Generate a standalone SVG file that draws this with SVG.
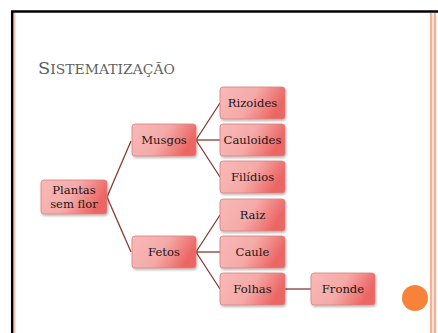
<svg xmlns="http://www.w3.org/2000/svg" width="438" height="333" viewBox="0 0 438 333">
<style>
.box{fill:url(#g);stroke:#d9837f;stroke-width:0.8;filter:url(#sh)}
.t{font-family:"DejaVu Serif","Liberation Serif",serif;font-size:11.6px;fill:#1e1414;text-anchor:middle}
.c{stroke:#8a3a30;fill:none;stroke-width:1.3}
</style>
<defs>
<linearGradient id="g" x1="0" y1="0" x2="1" y2="0.3">
<stop offset="0" stop-color="#f7b9b7"/>
<stop offset="0.55" stop-color="#f5aaa8"/>
<stop offset="1" stop-color="#ec6664"/>
</linearGradient>
<filter id="sh" x="-10%" y="-10%" width="125%" height="135%">
<feDropShadow dx="0.8" dy="1.5" stdDeviation="1" flood-color="#000" flood-opacity="0.3"/>
</filter>
</defs>
<rect width="438" height="333" fill="#fff"/>
<g id="frame">
<line x1="11" y1="11.5" x2="438" y2="11.5" stroke="#000" stroke-width="2.5"/>
<line x1="12.2" y1="11" x2="12.2" y2="333" stroke="#000" stroke-width="2.5"/>
<line x1="14.8" y1="13" x2="14.8" y2="333" stroke="#f9c4bd" stroke-width="1.6"/>
<rect x="429.5" y="13" width="7" height="320" fill="#fbe3da"/>
<line x1="431" y1="13" x2="431" y2="333" stroke="#f2a27e" stroke-width="1.5"/>
<line x1="435" y1="13" x2="435" y2="333" stroke="#f2a27e" stroke-width="1.5"/>
<circle cx="415" cy="298" r="13" fill="#f7833b"/>
</g>
<text x="38" y="74" font-family="DejaVu Serif,Liberation Serif,serif" fill="#5f5f5f" textLength="137" lengthAdjust="spacingAndGlyphs"><tspan font-size="16">S</tspan><tspan font-size="12.5">ISTEMATIZAÇÃO</tspan></text>
<g id="connectors">
<line class="c" x1="107" y1="197" x2="131" y2="141"/>
<line class="c" x1="107" y1="197" x2="131" y2="252"/>
<line class="c" x1="196" y1="140" x2="220" y2="103"/>
<line class="c" x1="196" y1="140" x2="220" y2="140" stroke-width="2.6"/>
<line class="c" x1="196" y1="140" x2="220" y2="177"/>
<line class="c" x1="196" y1="252" x2="220" y2="215"/>
<line class="c" x1="196" y1="252" x2="220" y2="252" stroke-width="1.6"/>
<line class="c" x1="196" y1="252" x2="220" y2="289"/>
<line class="c" x1="285" y1="289" x2="311" y2="289" stroke-width="1.6"/>
</g>
<g id="plantas"><rect class="box" x="41" y="180" width="66" height="34" rx="3"/><text class="t" x="74" y="194">Plantas</text><text class="t" x="74" y="208">sem flor</text></g>
<g id="musgos"><rect class="box" x="132" y="124" width="64" height="32" rx="3"/><text class="t" x="164" y="144">Musgos</text></g>
<g id="fetos"><rect class="box" x="132" y="236" width="64" height="32" rx="3"/><text class="t" x="164" y="256">Fetos</text></g>
<g id="rizoides"><rect class="box" x="220" y="87" width="65" height="32" rx="3"/><text class="t" x="252.5" y="107">Rizoides</text></g>
<g id="cauloides"><rect class="box" x="220" y="124" width="65" height="32" rx="3"/><text class="t" x="252.5" y="144">Cauloides</text></g>
<g id="filidios"><rect class="box" x="220" y="161" width="65" height="32" rx="3"/><text class="t" x="252.5" y="181">Filídios</text></g>
<g id="raiz"><rect class="box" x="220" y="199" width="65" height="32" rx="3"/><text class="t" x="252.5" y="219">Raiz</text></g>
<g id="caule"><rect class="box" x="220" y="236" width="65" height="32" rx="3"/><text class="t" x="252.5" y="256">Caule</text></g>
<g id="folhas"><rect class="box" x="220" y="273" width="65" height="32" rx="3"/><text class="t" x="252.5" y="293">Folhas</text></g>
<g id="fronde"><rect class="box" x="311" y="273" width="64" height="32" rx="3"/><text class="t" x="343" y="293">Fronde</text></g>
</svg>
